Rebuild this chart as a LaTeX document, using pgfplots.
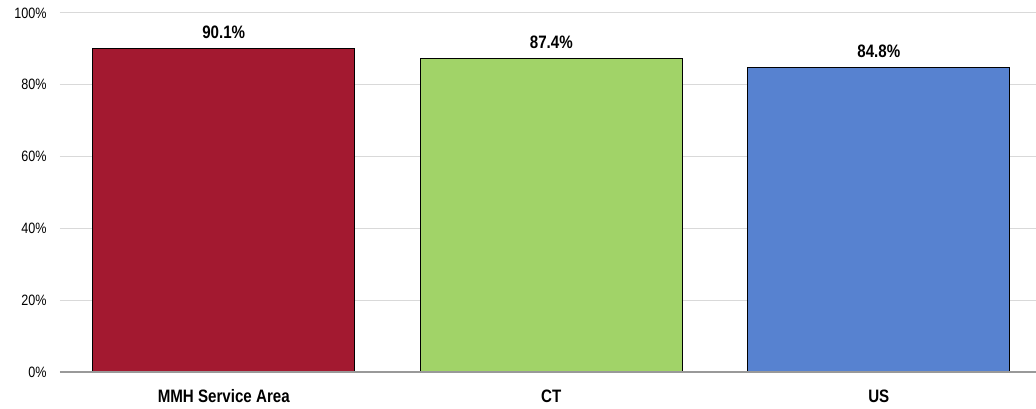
\documentclass[border=0pt]{standalone}
\usepackage{pgfplots}
\pgfplotsset{compat=1.18}
\usepackage{fontspec}
\setmainfont{Liberation Sans}[FakeStretch=0.84]
\definecolor{cred}{RGB}{163,25,48}
\definecolor{cgreen}{RGB}{161,211,104}
\definecolor{cblue}{RGB}{87,130,208}
\definecolor{gridc}{RGB}{217,217,217}
\begin{document}
\begin{tikzpicture}
\begin{axis}[
  scale only axis,
  width=976bp, height=359bp,
  xmin=-0.5, xmax=2.48,
  ymin=0, ymax=100,
  ybar, bar width=0.8,
  axis line style={draw=none},
  ymajorgrids, grid style={gridc, line width=1bp},
  ytick={0,20,40,60,80,100},
  yticklabel={\pgfmathprintnumber{\tick}\%},
  /pgf/number format/assume math mode=true,
  yticklabel style={font=\fontsize{15bp}{17bp}\selectfont, xshift=-10bp},
  xtick={0,1,2},
  xticklabels={MMH Service Area, CT, US},
  xticklabel style={font=\fontsize{18bp}{20bp}\selectfont\bfseries, yshift=-14bp},
  major tick length=0pt,
  nodes near coords={\pgfmathprintnumber[fixed,precision=1,fixed zerofill]{\pgfplotspointmeta}\%},
  every node near coord/.append style={font=\fontsize{18bp}{20bp}\selectfont\bfseries, black, yshift=6bp},
  clip=false,
]
\addplot[bar shift=0pt, fill=cred, draw=black, line width=1bp] coordinates {(0,90.1)};
\addplot[bar shift=0pt, fill=cgreen, draw=black, line width=1bp] coordinates {(1,87.4)};
\addplot[bar shift=0pt, fill=cblue, draw=black, line width=1bp] coordinates {(2,84.8)};
\draw[gray!80, line width=1.2bp] (axis cs:-0.5,0) -- (axis cs:2.48,0);
\end{axis}
\pgfresetboundingbox
\path (-60bp,-37bp) rectangle (976bp,372bp);
\end{tikzpicture}
\end{document}
